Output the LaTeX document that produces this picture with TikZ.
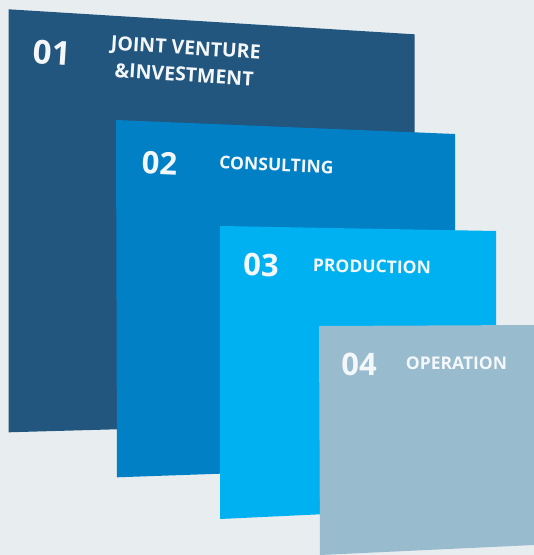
\documentclass[tikz,border=0pt]{standalone}
\usepackage{fontspec}
\setmainfont{Open Sans}
\definecolor{bgc}{HTML}{E8EDF0}
\definecolor{pa}{HTML}{22567E}
\definecolor{pb}{HTML}{0180C6}
\definecolor{pc}{HTML}{00B1F1}
\definecolor{pd}{HTML}{98BBCE}
\definecolor{txt}{HTML}{F4F7FA}
\begin{document}
\begin{tikzpicture}[x=1pt,y=-1pt,
  num/.style={text=txt,font=\fontsize{31}{31}\selectfont\bfseries,inner sep=0pt},
  lbl/.style={text=txt,font=\fontsize{17.5}{23}\selectfont\bfseries,inner sep=0pt,align=center}]
\fill[bgc] (0,0) rectangle (534,555);
\useasboundingbox (0,0) rectangle (534,555);
% panel 1
\fill[pa] (8.5,9.3) -- (414.5,34.3) -- (414.5,421) -- (8.5,432.3) -- cycle;
% panel 2
\fill[pb] (116,120) -- (455,134) -- (455,465.5) -- (117,477.3) -- cycle;
% panel 3
\fill[pc] (220,226) -- (496,231) -- (496,506) -- (220,519) -- cycle;
% panel 4
\fill[pd] (319,326) -- (534,325) -- (534,545) -- (320,555) -- cycle;
% texts
\node[num,font=\fontsize{33}{33}\selectfont\bfseries,rotate=-3.6] (n1) at (52,53) {01};
\node[lbl,font=\fontsize{19.5}{27}\selectfont\bfseries,rotate=-3.6] (l1) at (185,61) {JOINT VENTURE\\\&INVESTMENT};
\node[num,rotate=-2.4] (n2) at (159.5,163) {02};
\node[lbl,rotate=-2.4] (l2) at (276.5,165) {CONSULTING};
\node[num,rotate=-1] (n3) at (261,265) {03};
\node[lbl,rotate=-1] (l3) at (372,266.5) {PRODUCTION};
\node[num] (n4) at (359,364.5) {04};
\node[lbl] (l4) at (456.5,363.5) {OPERATION};
\end{tikzpicture}
\end{document}
